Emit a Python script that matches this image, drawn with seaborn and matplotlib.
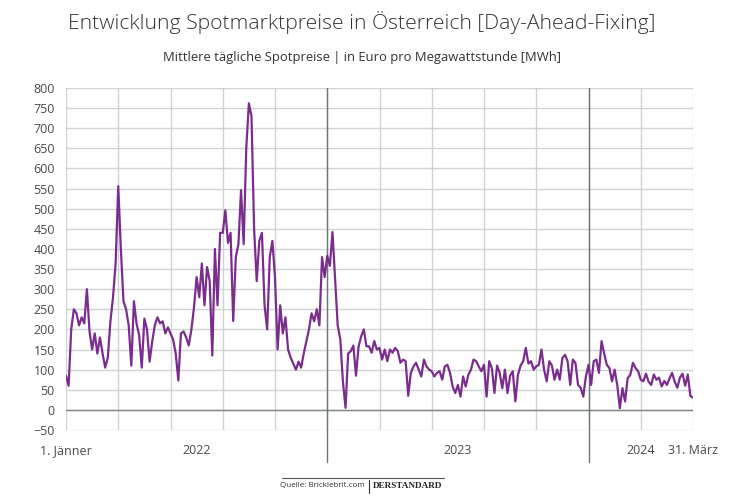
import numpy as np
import pandas as pd
import matplotlib.pyplot as plt
import seaborn as sns
from matplotlib.lines import Line2D
from matplotlib.transforms import blended_transform_factory

# mittlere tägliche Spotpreise (EUR/MWh), 20 Werte je Gitterabschnitt
preise_2022 = [
    85, 60, 200, 250, 240, 210, 230, 215, 300, 195, 150, 190, 140, 180, 140, 105, 130, 220, 280, 365,
    556, 400, 270, 250, 210, 110, 270, 215, 185, 105, 227, 200, 120, 170, 210, 230, 215, 220, 190, 205,
    190, 175, 140, 73, 190, 195, 180, 160, 200, 255, 330, 280, 364, 260, 355, 320, 135, 400, 260, 440,
    440, 496, 415, 440, 221, 380, 412, 546, 412, 650, 762, 730, 450, 320, 420, 440, 260, 200, 380, 420,
    330, 150, 260, 190, 230, 150, 130, 115, 100, 120, 105, 140, 170, 200, 240, 220, 250, 210, 380, 330,
]
preise_2023 = [
    383, 358, 442, 325, 210, 175, 70, 5, 140, 146, 160, 85, 158, 183, 200, 158, 158, 142, 171, 150,
    154, 125, 150, 121, 150, 142, 154, 146, 117, 125, 121, 35, 92, 108, 117, 100, 83, 125, 108, 100,
    96, 83, 92, 96, 75, 108, 112, 92, 58, 42, 62, 33, 83, 58, 87, 100, 125, 121, 108, 96,
    112, 33, 121, 104, 42, 110, 92, 54, 100, 42, 85, 96, 21, 87, 110, 121, 154, 115, 121, 100,
    108, 112, 150, 100, 71, 121, 110, 75, 100, 75, 129, 137, 121, 62, 125, 117, 62, 55, 33, 83,
]
preise_2024 = [
    112, 62, 121, 125, 92, 171, 140, 112, 104, 71, 100, 62, 4, 54, 21, 79, 87, 117, 104, 96,
    75, 71, 90, 70, 62, 88, 75, 80, 58, 72, 62, 78, 92, 70, 55, 80, 90, 60, 88, 35,
    30,
]
jahre = ["2022", "2023", "2024"]
punkte_je_abschnitt = 20

werte = preise_2022 + preise_2023 + preise_2024
df = pd.DataFrame({"pos": np.arange(len(werte)) / punkte_je_abschnitt, "preis": werte})
ende = df["pos"].iloc[-1]
grenzen = [0, len(preise_2022) / punkte_je_abschnitt,
           (len(preise_2022) + len(preise_2023)) / punkte_je_abschnitt, ende]

sns.set_style("white")
plt.rcParams['font.family'] = ['Open Sans', 'DejaVu Sans']

fig = plt.figure(figsize=(7.5, 5), dpi=100)
ax = fig.add_axes([0.088, 0.14, 0.836, 0.684])

sns.lineplot(data=df, x="pos", y="preis", color="#7b2d8e", lw=1.6, ax=ax, zorder=3)

ax.set_xlim(0, ende)
ax.set_ylim(-50, 800)
ax.set_yticks(np.arange(-50, 801, 50))
ax.set_xticks(np.arange(0, ende + 0.5, 1))
ax.set_xticklabels([])
ax.grid(True, color="#cfd3d3", lw=1)
ax.axhline(0, color="#7f8585", lw=1, zorder=2)
for g in grenzen[1:3]:
    ax.axvline(g, ymin=-0.095, ymax=1, color="#6f7676", lw=1, clip_on=False, zorder=2)
for s in ax.spines.values():
    s.set_visible(False)
ax.tick_params(axis="both", length=0, labelsize=9, colors="#4a4a4a", pad=8)
ax.set_xlabel("")
ax.set_ylabel("")

trans = blended_transform_factory(ax.transData, ax.transAxes)
lbl = dict(transform=trans, fontsize=9, color="#4a4a4a", va="center", ha="center")
ax.text(0, -0.06, "1. Jänner", **lbl)
for j, a, b in zip(jahre, grenzen[:-1], grenzen[1:]):
    ax.text((a + b) / 2, -0.06, j, **lbl)
ax.text(ende, -0.06, "31. März", **lbl)

fig.text(0.483, 0.955, "Entwicklung Spotmarktpreise in Österreich [Day-Ahead-Fixing]",
         ha="center", va="center", fontsize=15.2, fontweight="light", color="#333333")
fig.text(0.483, 0.884, "Mittlere tägliche Spotpreise | in Euro pro Megawattstunde [MWh]",
         ha="center", va="center", fontsize=9.4, color="#333333")

fig.add_artist(Line2D([0.376, 0.592], [0.045, 0.045], color="#555555", lw=0.8))
fig.text(0.487, 0.028, "Quelle: Bricklebrit.com", ha="right", va="center",
         fontsize=5.8, color="#333333")
fig.add_artist(Line2D([0.4915, 0.4915], [0.014, 0.040], color="#333333", lw=0.8))
fig.text(0.497, 0.028, "DERSTANDARD", ha="left", va="center", fontsize=6.6,
         family=["Liberation Serif", "DejaVu Serif"], fontweight="bold", color="#222222")

fig.savefig("out.png", dpi=100)
